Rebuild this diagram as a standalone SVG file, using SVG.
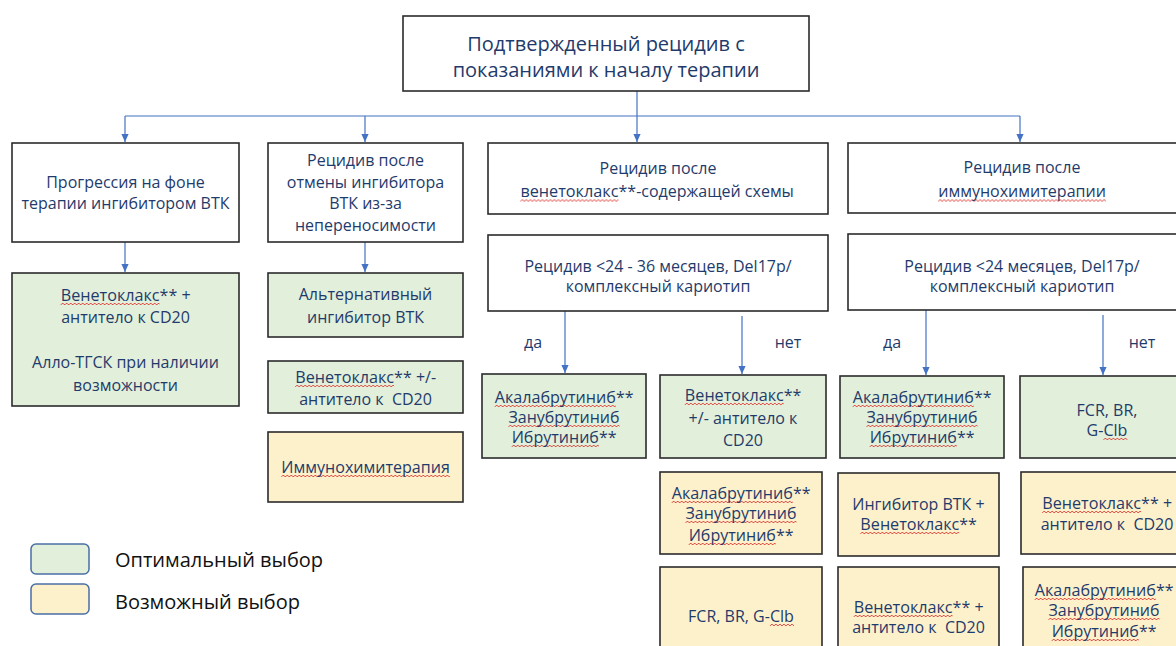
<svg xmlns="http://www.w3.org/2000/svg" width="1176" height="646" viewBox="0 0 1176 646">
<defs>
<marker id="arr" markerUnits="userSpaceOnUse" markerWidth="8" markerHeight="8" refX="10" refY="5" orient="auto" viewBox="0 0 10 10">
<path d="M0 0.5 L10 5 L0 9.5 Z" fill="#4472c4"/>
</marker>
<pattern id="wv" patternUnits="userSpaceOnUse" x="0" y="0" width="4" height="4">
<path d="M0 3 L2 1 L4 3" fill="none" stroke="#e0403a" stroke-width="0.9"/>
</pattern>
<style>
.box{stroke:#2b2b2b;stroke-width:1.6}
.w{fill:#ffffff}
.g{fill:#e2efda}
.y{fill:#fdf1cc}
.t,.s{font-family:"Open Sans","Liberation Sans",sans-serif;font-size:16px;fill:#1f3b6b}
.t{text-anchor:middle}
.s{text-anchor:start}
.pre{white-space:pre}
.tt{font-family:"Open Sans","Liberation Sans",sans-serif;font-size:20px;fill:#1f3b6b;text-anchor:middle}
.lg{font-family:"Open Sans","Liberation Sans",sans-serif;font-size:20px;fill:#111111}
.wv{fill:url(#wv)}
.c{fill:none;stroke:#4472c4;stroke-width:1.2}
.leg{stroke:#4a6fa5;stroke-width:1.5}
</style>
</defs>
<rect width="1176" height="646" fill="#ffffff"/>
<g id="connectors">
<path class="c" d="M637 91 V116"/>
<path class="c" d="M125 116 H1020"/>
<path class="c" d="M125 116 V142" marker-end="url(#arr)"/>
<path class="c" d="M365 116 V142" marker-end="url(#arr)"/>
<path class="c" d="M637 116 V142" marker-end="url(#arr)"/>
<path class="c" d="M1020 116 V142" marker-end="url(#arr)"/>
<path class="c" d="M125 242 V272" marker-end="url(#arr)"/>
<path class="c" d="M365 242 V272" marker-end="url(#arr)"/>
<path class="c" d="M565 311 V373" marker-end="url(#arr)"/>
<path class="c" d="M742 316 V374" marker-end="url(#arr)"/>
<path class="c" d="M926 310 V375" marker-end="url(#arr)"/>
<path class="c" d="M1103 315 V375" marker-end="url(#arr)"/>
<text class="t" x="533" y="348">да</text>
<text class="t" x="788" y="348">нет</text>
<text class="t" x="892" y="348">да</text>
<text class="t" x="1142" y="348">нет</text>
</g>
<g id="root">
<rect class="box w" x="403" y="16" width="406" height="75"/>
<text class="tt" x="606" y="51">Подтвержденный рецидив с</text>
<text class="tt" x="606" y="77">показаниями к началу терапии</text>
</g>
<g id="c1">
<rect class="box w" x="12" y="143" width="227" height="99"/>
<text class="t" x="125.5" y="187.5">Прогрессия на фоне</text>
<text class="t" x="125.5" y="208.5">терапии ингибитором ВТК</text>
</g>
<g id="c2">
<rect class="box w" x="268" y="143" width="195" height="99"/>
<text class="t" x="365.5" y="166">Рецидив после</text>
<text class="t" x="365.5" y="187.5">отмены ингибитора</text>
<text class="t" x="365.5" y="209">ВТК из-за</text>
<text class="t" x="365.5" y="231">непереносимости</text>
</g>
<g id="c3">
<rect class="box w" x="488" y="143" width="340" height="71"/>
<text class="t" x="658" y="174">Рецидив после</text>
<rect class="wv" transform="translate(520.4 198.5)" width="98.1" height="4"/>
<text class="s" x="520.4" y="197" textLength="98.1" lengthAdjust="spacingAndGlyphs">венетоклакс</text>
<text class="s" x="618.5" y="197">**-содержащей схемы</text>
</g>
<g id="c4">
<rect class="box w" x="848" y="143" width="348" height="70"/>
<text class="t" x="1022" y="173">Рецидив после</text>
<rect class="wv" transform="translate(938.2 198.5)" width="167.7" height="4"/>
<text class="s" x="938.2" y="197" textLength="167.7" lengthAdjust="spacingAndGlyphs">иммунохимитерапии</text>
</g>
<g id="c3q">
<rect class="box w" x="488" y="235" width="340" height="76"/>
<text class="t" x="658" y="272">Рецидив &lt;24 - 36 месяцев, Del17p/</text>
<text class="t" x="658" y="292">комплексный кариотип</text>
</g>
<g id="c4q">
<rect class="box w" x="848" y="234" width="348" height="76"/>
<text class="t" x="1022" y="272">Рецидив &lt;24 месяцев, Del17p/</text>
<text class="t" x="1022" y="292">комплексный кариотип</text>
</g>
<g id="c1g">
<rect class="box g" x="12" y="273" width="227" height="133"/>
<rect class="wv" transform="translate(60.7 302)" width="98.9" height="4"/>
<text class="s" x="60.7" y="300.5" textLength="98.9" lengthAdjust="spacingAndGlyphs">Венетоклакс</text>
<text class="s" x="159.6" y="300.5">** +</text>
<text class="t" x="125.5" y="322.5">антитело к CD20</text>
<text class="t" x="125.5" y="367.5">Алло-ТГСК при наличии</text>
<text class="t" x="125.5" y="390.5">возможности</text>
</g>
<g id="c2g1">
<rect class="box g" x="268" y="273" width="195" height="64"/>
<text class="t" x="365.5" y="299.5">Альтернативный</text>
<text class="t" x="365.5" y="322.5">ингибитор ВТК</text>
</g>
<g id="c2g2">
<rect class="box g" x="268" y="361" width="195" height="52"/>
<rect class="wv" transform="translate(295.2 384)" width="98.9" height="4"/>
<text class="s" x="295.2" y="382.5" textLength="98.9" lengthAdjust="spacingAndGlyphs">Венетоклакс</text>
<text class="s" x="394.1" y="382.5">** +/-</text>
<text class="t pre" x="365.5" y="404.5">антитело к  CD20</text>
</g>
<g id="c2y">
<rect class="box y" x="268" y="432" width="195" height="70"/>
<rect class="wv" transform="translate(281.3 474)" width="168.5" height="4"/>
<text class="s" x="281.3" y="472.5" textLength="168.5" lengthAdjust="spacingAndGlyphs">Иммунохимитерапия</text>
</g>
<g id="c3g1">
<rect class="box g" x="482" y="374" width="164" height="84"/>
<rect class="wv" transform="translate(494.7 404)" width="121.2" height="4"/>
<text class="s" x="494.7" y="402.5" textLength="121.2" lengthAdjust="spacingAndGlyphs">Акалабрутиниб</text>
<text class="s" x="615.9" y="402.5">**</text>
<rect class="wv" transform="translate(508.45 424)" width="111.1" height="4"/>
<text class="s" x="508.45" y="422.5" textLength="111.1" lengthAdjust="spacingAndGlyphs">Занубрутиниб</text>
<rect class="wv" transform="translate(511.7 444)" width="87.2" height="4"/>
<text class="s" x="511.7" y="442.5" textLength="87.2" lengthAdjust="spacingAndGlyphs">Ибрутиниб</text>
<text class="s" x="598.9" y="442.5">**</text>
</g>
<g id="c3g2">
<rect class="box g" x="660" y="375" width="166" height="83"/>
<rect class="wv" transform="translate(684.85 402)" width="98.9" height="4"/>
<text class="s" x="684.85" y="400.5" textLength="98.9" lengthAdjust="spacingAndGlyphs">Венетоклакс</text>
<text class="s" x="783.75" y="400.5">**</text>
<text class="t" x="743" y="423.5">+/- антитело к</text>
<text class="t" x="743" y="445.5">CD20</text>
</g>
<g id="c3y1">
<rect class="box y" x="660" y="472" width="162" height="82"/>
<rect class="wv" transform="translate(671.7 500)" width="121.2" height="4"/>
<text class="s" x="671.7" y="498.5" textLength="121.2" lengthAdjust="spacingAndGlyphs">Акалабрутиниб</text>
<text class="s" x="792.9" y="498.5">**</text>
<rect class="wv" transform="translate(685.45 520)" width="111.1" height="4"/>
<text class="s" x="685.45" y="518.5" textLength="111.1" lengthAdjust="spacingAndGlyphs">Занубрутиниб</text>
<rect class="wv" transform="translate(688.7 542)" width="87.2" height="4"/>
<text class="s" x="688.7" y="540.5" textLength="87.2" lengthAdjust="spacingAndGlyphs">Ибрутиниб</text>
<text class="s" x="775.9" y="540.5">**</text>
</g>
<g id="c3y2">
<rect class="box y" x="660" y="567" width="162" height="95"/>
<text class="s" x="688.1" y="621.5">FCR, BR, G-</text>
<rect class="wv" transform="translate(769.9 623)" width="24" height="4"/>
<text class="s" x="769.9" y="621.5" textLength="24" lengthAdjust="spacingAndGlyphs">Clb</text>
</g>
<g id="c4g1">
<rect class="box g" x="840" y="376" width="164" height="82"/>
<rect class="wv" transform="translate(852.7 404)" width="121.2" height="4"/>
<text class="s" x="852.7" y="402.5" textLength="121.2" lengthAdjust="spacingAndGlyphs">Акалабрутиниб</text>
<text class="s" x="973.9" y="402.5">**</text>
<rect class="wv" transform="translate(866.45 424)" width="111.1" height="4"/>
<text class="s" x="866.45" y="422.5" textLength="111.1" lengthAdjust="spacingAndGlyphs">Занубрутиниб</text>
<rect class="wv" transform="translate(869.7 444)" width="87.2" height="4"/>
<text class="s" x="869.7" y="442.5" textLength="87.2" lengthAdjust="spacingAndGlyphs">Ибрутиниб</text>
<text class="s" x="956.9" y="442.5">**</text>
</g>
<g id="c4g2">
<rect class="box g" x="1020" y="376" width="176" height="82"/>
<text class="t" x="1107" y="415.5">FCR, BR,</text>
<text class="s" x="1086.6" y="435.5">G-</text>
<rect class="wv" transform="translate(1103.4 437)" width="24" height="4"/>
<text class="s" x="1103.4" y="435.5" textLength="24" lengthAdjust="spacingAndGlyphs">Clb</text>
</g>
<g id="c4y1">
<rect class="box y" x="838" y="473" width="161" height="83"/>
<text class="t" x="918.5" y="509.5">Ингибитор ВТК +</text>
<rect class="wv" transform="translate(860.35 531)" width="98.9" height="4"/>
<text class="s" x="860.35" y="529.5" textLength="98.9" lengthAdjust="spacingAndGlyphs">Венетоклакс</text>
<text class="s" x="959.25" y="529.5">**</text>
</g>
<g id="c4y2">
<rect class="box y" x="1021" y="472" width="175" height="82"/>
<rect class="wv" transform="translate(1042.2 510)" width="98.9" height="4"/>
<text class="s" x="1042.2" y="508.5" textLength="98.9" lengthAdjust="spacingAndGlyphs">Венетоклакс</text>
<text class="s" x="1141.1" y="508.5">** +</text>
<text class="t pre" x="1107" y="529.5">антитело к  CD20</text>
</g>
<g id="c4y3">
<rect class="box y" x="838" y="567" width="161" height="95"/>
<rect class="wv" transform="translate(853.7 614)" width="98.9" height="4"/>
<text class="s" x="853.7" y="612.5" textLength="98.9" lengthAdjust="spacingAndGlyphs">Венетоклакс</text>
<text class="s" x="952.6" y="612.5">** +</text>
<text class="t pre" x="918.5" y="632.5">антитело к  CD20</text>
</g>
<g id="c4y4">
<rect class="box y" x="1023" y="567" width="173" height="95"/>
<rect class="wv" transform="translate(1034.7 597)" width="121.2" height="4"/>
<text class="s" x="1034.7" y="595.5" textLength="121.2" lengthAdjust="spacingAndGlyphs">Акалабрутиниб</text>
<text class="s" x="1155.9" y="595.5">**</text>
<rect class="wv" transform="translate(1048.45 617)" width="111.1" height="4"/>
<text class="s" x="1048.45" y="615.5" textLength="111.1" lengthAdjust="spacingAndGlyphs">Занубрутиниб</text>
<rect class="wv" transform="translate(1051.7 638)" width="87.2" height="4"/>
<text class="s" x="1051.7" y="636.5" textLength="87.2" lengthAdjust="spacingAndGlyphs">Ибрутиниб</text>
<text class="s" x="1138.9" y="636.5">**</text>
</g>
<g id="legend">
<rect class="leg g" x="31" y="544" width="58" height="30" rx="5"/>
<rect class="leg y" x="31" y="584" width="58" height="30" rx="5"/>
<text class="lg" x="115" y="567">Оптимальный выбор</text>
<text class="lg" x="115" y="609">Возможный выбор</text>
</g>
</svg>
